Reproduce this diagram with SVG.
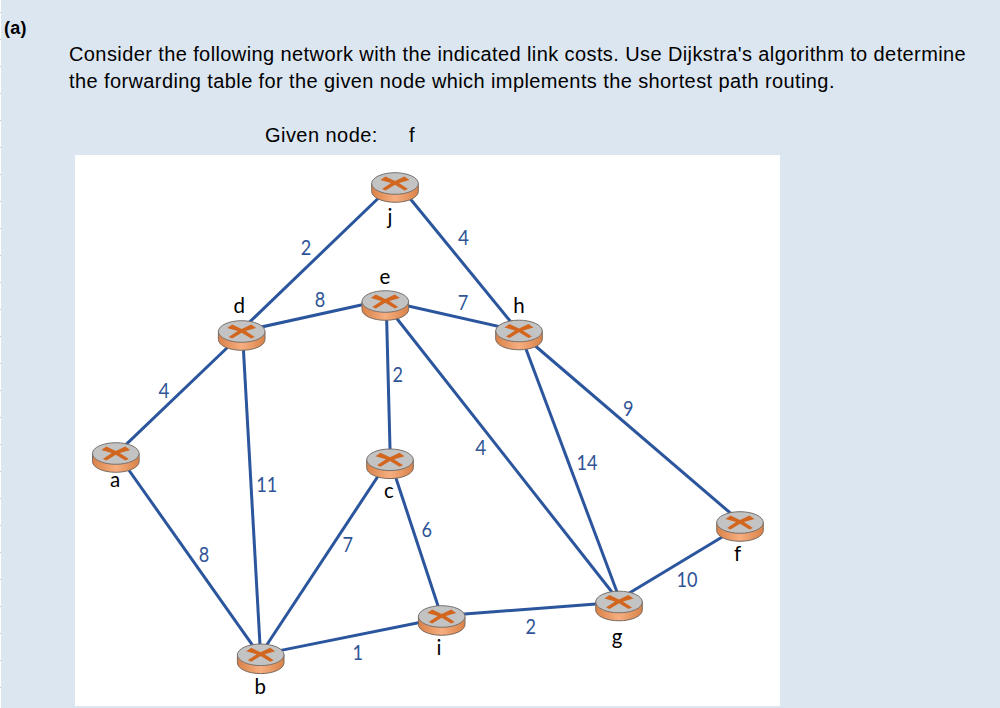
<svg xmlns="http://www.w3.org/2000/svg" width="1000" height="708" viewBox="0 0 1000 708">
<style>
.t{font-family:"Liberation Sans",Arial,sans-serif;font-size:20px;letter-spacing:.4px;fill:#000}
.n{font-family:Lato,"Open Sans",sans-serif;font-size:20.500px;fill:#000;text-anchor:middle}
.c{font-family:Lato,"Open Sans",sans-serif;font-size:20.500px;fill:#2f5597;text-anchor:middle}
.l{stroke:#2b559c;stroke-width:3;fill:none}
</style>
<defs>
<linearGradient id="s" x1="0" x2="1" y1="0" y2="0"><stop offset="0" stop-color="#d98248"/><stop offset=".5" stop-color="#f6ae80"/><stop offset="1" stop-color="#d98248"/></linearGradient>
<g id="r">
<path d="M-23.300 0V8A23.300 10.800 0 0 0 23.300 8V0Z" fill="url(#s)" stroke="#7a6a60" stroke-width="1"/>
<ellipse rx="23.300" ry="10.800" fill="#c3c3c3" stroke="#77706c" stroke-width="1"/>
<path d="M-14.500 -3.500L-9.500 -7L0 -2.500L9.500 -7L14.500 -3.500L4 -0.500L13 5.500L9.500 7L0 1.200L-9.500 7L-13 5.500L-4 -0.500Z" fill="#d2661f"/>
</g>
</defs>
<rect width="1000" height="708" fill="#dce6f1"/>
<rect x="0" y="0" width="1" height="708" fill="#fff"/>
<path d="M0 12.500H1M0 39.500H1M0 66.500H1M0 93.500H1M0 120.500H1M0 147.500H1M0 174.500H1M0 201.500H1M0 228.500H1M0 255.500H1M0 282.500H1M0 309.500H1M0 336.500H1M0 363.500H1M0 390.500H1M0 417.500H1M0 444.500H1M0 471.500H1M0 498.500H1M0 525.500H1M0 552.500H1M0 579.500H1M0 606.500H1M0 633.500H1M0 660.500H1M0 687.500H1" stroke="#c8c8c8" stroke-width="1"/>
<rect x="75" y="155" width="705" height="551" fill="#fff"/>
<text class="t" x="4" y="34" style="font-weight:bold;font-size:18px;letter-spacing:.3px">(a)</text>
<text class="t" x="69" y="61">Consider the following network with the indicated link costs. Use Dijkstra's algorithm to determine</text>
<text class="t" x="69" y="88">the forwarding table for the given node which implements the shortest path routing.</text>
<text class="t" x="265" y="142" style="letter-spacing:.45px">Given node:</text>
<text class="t" x="409" y="142">f</text>
<g id="connectors">
<path class="l" d="M391 186L238.200 333"/>
<path class="l" d="M399.800 186L520 333"/>
<path class="l" d="M241 331.500L385 299.800"/>
<path class="l" d="M385 300.800L519 331"/>
<path class="l" d="M241.500 334L116 454.200"/>
<path class="l" d="M242.500 333L260.500 654"/>
<path class="l" d="M386.200 302L390.300 460"/>
<path class="l" d="M385 303.500L619 601"/>
<path class="l" d="M520 333L620 600"/>
<path class="l" d="M520.200 333L742 523"/>
<path class="l" d="M118.200 455L259.400 655"/>
<path class="l" d="M388.700 460L260.100 655"/>
<path class="l" d="M390 460L442 618"/>
<path class="l" d="M261 654.400L442 618"/>
<path class="l" d="M442 615.800L619 602.200"/>
<path class="l" d="M619 599.300L740 526.200"/>
<g id="costs">
<text class="c" x="306" y="255" textLength="10.500" lengthAdjust="spacingAndGlyphs">2</text>
<text class="c" x="463.500" y="245" textLength="11" lengthAdjust="spacingAndGlyphs">4</text>
<text class="c" x="320" y="307" textLength="10.500" lengthAdjust="spacingAndGlyphs">8</text>
<text class="c" x="463" y="310" textLength="10.500" lengthAdjust="spacingAndGlyphs">7</text>
<text class="c" x="164" y="398" textLength="11" lengthAdjust="spacingAndGlyphs">4</text>
<text class="c" x="397.700" y="382" textLength="10.500" lengthAdjust="spacingAndGlyphs">2</text>
<text class="c" x="480.700" y="455" textLength="11" lengthAdjust="spacingAndGlyphs">4</text>
<text class="c" x="587" y="470" textLength="21" lengthAdjust="spacingAndGlyphs">14</text>
<text class="c" x="628.300" y="416" textLength="10.500" lengthAdjust="spacingAndGlyphs">9</text>
<text class="c" x="266.700" y="492" textLength="21" lengthAdjust="spacingAndGlyphs">11</text>
<text class="c" x="204" y="562" textLength="10.500" lengthAdjust="spacingAndGlyphs">8</text>
<text class="c" x="347.700" y="552" textLength="10.500" lengthAdjust="spacingAndGlyphs">7</text>
<text class="c" x="426.700" y="537" textLength="10.500" lengthAdjust="spacingAndGlyphs">6</text>
<text class="c" x="357.700" y="660" textLength="10.500" lengthAdjust="spacingAndGlyphs">1</text>
<text class="c" x="530.700" y="634" textLength="10.500" lengthAdjust="spacingAndGlyphs">2</text>
<text class="c" x="687" y="587" textLength="21" lengthAdjust="spacingAndGlyphs">10</text>
</g>
</g>
<g id="node-j"><use href="#r" x="395" y="183.500"/><text class="n" x="390" y="224">j</text></g>
<g id="node-e"><use href="#r" x="385.300" y="301.500"/><text class="n" x="385" y="284">e</text></g>
<g id="node-d"><use href="#r" x="241.700" y="331.500"/><text class="n" x="239.300" y="313">d</text></g>
<g id="node-h"><use href="#r" x="519" y="331"/><text class="n" x="519" y="313">h</text></g>
<g id="node-a"><use href="#r" x="115.800" y="453.500"/><text class="n" x="115" y="487">a</text></g>
<g id="node-c"><use href="#r" x="390" y="459.800"/><text class="n" x="389" y="498">c</text></g>
<g id="node-f"><use href="#r" x="740" y="522.500"/><text class="n" x="737.700" y="561">f</text></g>
<g id="node-g"><use href="#r" x="619" y="602"/><text class="n" x="617" y="644">g</text></g>
<g id="node-i"><use href="#r" x="441.700" y="616.500"/><text class="n" x="439" y="655">i</text></g>
<g id="node-b"><use href="#r" x="260.700" y="654.800"/><text class="n" x="260.300" y="694">b</text></g>
</svg>
